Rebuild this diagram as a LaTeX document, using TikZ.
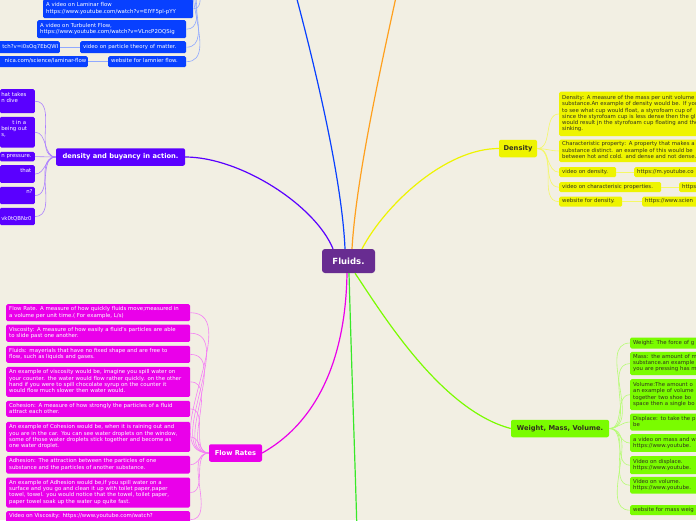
\documentclass[tikz,border=0pt]{standalone}
\usepackage{fontspec}
\setmainfont{DejaVu Sans}
\definecolor{paper}{RGB}{242,239,227}
\definecolor{rootC}{RGB}{104,44,145}
\definecolor{blueC}{RGB}{8,64,255}
\definecolor{violC}{RGB}{90,0,255}
\definecolor{yelC}{RGB}{238,244,0}
\definecolor{limeC}{RGB}{122,252,0}
\definecolor{magC}{RGB}{234,0,234}
\definecolor{orgC}{RGB}{255,160,30}
\definecolor{grnC}{RGB}{56,232,40}
\definecolor{inkC}{RGB}{50,50,30}
\newcommand{\leaffont}{\fontsize{5.4}{6.2}\selectfont}
\begin{document}
\begin{tikzpicture}[x=1pt, y=-1pt,
    root/.style={fill=rootC, text=white, rounded corners=3pt, font=\bfseries\fontsize{8.5}{9}\selectfont, minimum width=53pt, minimum height=24pt, inner sep=0pt},
    branch/.style={rounded corners=2pt, font=\bfseries\fontsize{6.7}{7}\selectfont, minimum height=17.5pt, inner sep=0pt},
    leaf/.style={anchor=north west, align=left, rounded corners=1.5pt, inner xsep=3pt, inner ysep=0pt, font=\leaffont, minimum height=#1, execute at begin node=\strut, execute at end node=\strut},
    cut/.style={anchor=north east, rounded corners=1.5pt, inner xsep=1.5pt, inner ysep=0pt, font=\leaffont, minimum height=#1, execute at begin node=\strut, execute at end node=\strut},
    trunk/.style={line width=1.2pt},
    twig/.style={line width=0.6pt},
]
\useasboundingbox (0,0) rectangle (696,520);
\clip (0,0) rectangle (696,520);
\fill[paper] (0,0) rectangle (696,520);

% Raiz
\node[root] (fluids) at (348.5,261) {Fluids.};

% Ramos
\node[branch, fill=violC, text=white, minimum width=129pt] (buoy) at (120.5,157) {density and buyancy in action.};
\node[branch, fill=yelC, text=inkC, minimum width=38pt] (dsty) at (518,148.5) {Density};
\node[branch, fill=limeC, text=inkC, minimum width=98pt] (wmv) at (560,428.5) {Weight, Mass, Volume.};
\node[branch, fill=magC, text=white, minimum width=53pt] (flow) at (235.5,453) {Flow Rates};

% Ramos fora da imagem
\coordinate (bluetop) at (294,-12);
\coordinate (bluekid) at (206,-30);
\coordinate (orgtop) at (398,-12);
\coordinate (grnbot) at (357,532);

% Folhas azuis
\node[leaf=19, fill=blueC, text=white, text width=144pt] (lam) at (43,-1) {A video on Laminar flow\\https://www.youtube.com/watch?v=EIYF5pl-pYY};
\node[leaf=18, fill=blueC, text=white, text width=143pt] (turb) at (37,20) {A video on Turbulent Flow,\\https://www.youtube.com/watch?v=VLncP2OQSig};
\node[leaf=12, fill=blueC, text=white, text width=100pt] (part) at (80,41) {video on particle theory of matter.};
\node[cut=12, fill=blueC, text=white, text width=80pt, align=right] (partu) at (60,41) {tch?v=i0sOq7EbQWI};
\node[leaf=11, fill=blueC, text=white, text width=72pt] (lweb) at (108,56) {website for lamnier flow.};
\node[cut=11, fill=blueC, text=white, text width=100pt, align=right] (lwebu) at (88,56) {nica.com/science/laminar-flow};

% Folhas violeta
\node[cut=24, fill=violC, text=white, text width=32pt, align=left] (v1) at (35,89) {hat takes\\n dive\\\mbox{}};
\node[cut=30.6, fill=violC, text=white, text width=32pt, align=left] (v2) at (35,116.7) {\hspace*{11pt}t in a\\being out\\s,\\\mbox{}};
\node[cut=9.5, fill=violC, text=white, text width=32pt, align=left] (v3) at (35,151.7) {n pressure.};
\node[cut=17.7, fill=violC, text=white, text width=32pt, align=left] (v4) at (35,165) {\hspace*{19pt}that\\\mbox{}};
\node[cut=17.3, fill=violC, text=white, text width=32pt, align=left] (v5) at (35,186.7) {\hspace*{25pt}n?\\\mbox{}};
\node[cut=17.3, fill=violC, text=white, text width=32pt, align=left] (v6) at (35,207.7) {\mbox{}\\vk0tQBNz0};

% Folhas amarelas
\node[leaf=44.5, fill=yelC, text=inkC, text width=200pt] (y1) at (559,91.5) {Density: A measure of the mass per unit volume o\\substance.An example of density would be. If you\\to see what cup would float, a styrofoam cup of\\since the styrofoam cup is less dense then the gl\\would result jn the styrofoam cup floating and the\\sinking.};
\node[leaf=22.5, fill=yelC, text=inkC, text width=200pt] (y2) at (559,139.5) {Characteristic property: A property that makes a\\substance distinct. an example of this would be\\between hot and cold. and dense and not dense.};
\node[leaf=10, fill=yelC, text=inkC, text width=51pt] (y3) at (559,167) {video on density.};
\node[leaf=10, fill=yelC, text=inkC, text width=100pt] (y3u) at (634,167) {https://m.youtube.co};
\node[leaf=10, fill=yelC, text=inkC, text width=96pt] (y4) at (559,182) {video on characterisic properties.};
\node[leaf=10, fill=yelC, text=inkC, text width=60pt] (y4u) at (679,182) {https};
\node[leaf=10, fill=yelC, text=inkC, text width=57pt] (y5) at (559,196.5) {website for density.};
\node[leaf=10, fill=yelC, text=inkC, text width=100pt] (y5u) at (642,196.5) {https://www.scien};

% Folhas verdes
\node[leaf=11, fill=limeC, text=inkC, text width=200pt] (g1) at (630,337.3) {Weight: The force of g};
\node[leaf=23.3, fill=limeC, text=inkC, text width=200pt] (g2) at (630,351.7) {Mass: the amount of m\\substance.an example\\you are pressing has m};
\node[leaf=31, fill=limeC, text=inkC, text width=200pt] (g3) at (630,379) {Volume:The amount o\\an example of volume\\together two shoe bo\\space then a single bo};
\node[leaf=17, fill=limeC, text=inkC, text width=200pt] (g4) at (630,413.3) {Displace: to take the p\\be};
\node[leaf=17.7, fill=limeC, text=inkC, text width=200pt] (g5) at (630,434) {a video on mass and w\\https://www.youtube.};
\node[leaf=18, fill=limeC, text=inkC, text width=200pt] (g6) at (630,456) {Video on displace.\\https://www.youtube.};
\node[leaf=16.7, fill=limeC, text=inkC, text width=200pt] (g7) at (630,476.7) {Video on volume.\\https://www.youtube.};
\node[leaf=10, fill=limeC, text=inkC, text width=200pt] (g8) at (630,505) {website for mass weig};

% Folhas magenta
\node[leaf=17, fill=magC, text=white, text width=178pt] (m1) at (6,304) {Flow Rate. A measure of how quickly fluids move;measured in\\a volume per unit time.( For example, L/s)};
\node[leaf=17.4, fill=magC, text=white, text width=178pt] (m2) at (6,324.3) {Viscosity: A measure of how easily a fluid's particles are able\\to slide past one another.};
\node[leaf=17, fill=magC, text=white, text width=178pt] (m3) at (6,345.7) {Fluids: mayerials that have no fixed shape and are free to\\flow, such as liquids and gases.};
\node[leaf=30, fill=magC, text=white, text width=178pt] (m4) at (6,366.7) {An example of viscosity would be, imagine you spill water on\\your counter. the water would flow rather quickly. on the other\\hand if you were to spill chocolate syrup on the counter it\\would flow much slower then water would.};
\node[leaf=16, fill=magC, text=white, text width=178pt] (m5) at (6,400.7) {Cohesion: A measure of how strongly the particles of a fluid\\attract each other.};
\node[leaf=30, fill=magC, text=white, text width=178pt] (m6) at (6,421.7) {An example of Cohesion would be, when it is raining out and\\you are in the car. You can see water droplets on the window,\\some of those water droplets stick together and become as\\one water droplet.};
\node[leaf=17.6, fill=magC, text=white, text width=178pt] (m7) at (6,455.7) {Adhesion: The attraction between the particles of one\\substance and the particles of another substance.};
\node[leaf=30, fill=magC, text=white, text width=178pt] (m8) at (6,477.3) {An example of Adhesion would be,if you spill water on a\\surface and you go and clean it up with toilet paper,paper\\towel, towel. you would notice that the towel, toilet paper,\\paper towel soak up  the water up quite fast.};
\node[leaf=17, fill=magC, text=white, text width=178pt] (m9) at (6,511) {Video on Viscosity: https://www.youtube.com/watch?\\\mbox{}};

% Troncos
\draw[trunk, blueC] ([xshift=-3.5pt]fluids.north) .. controls (342,180) and (316,70) .. (bluetop);
\draw[trunk, orgC] ([xshift=3.5pt]fluids.north) .. controls (356,180) and (380,70) .. (orgtop);
\draw[trunk, violC] ([xshift=-15.5pt]fluids.north) .. controls (315,205) and (240,157) .. (buoy.east);
\draw[trunk, yelC] ([xshift=13.5pt]fluids.north) .. controls (385,205) and (445,148.5) .. (dsty.west);
\draw[trunk, limeC] ([xshift=6.5pt]fluids.south) .. controls (380,310) and (440,410) .. (wmv.west);
\draw[trunk, magC] ([xshift=-1.5pt]fluids.south) .. controls (345,400) and (285,440) .. (flow.east);
\draw[trunk, grnC] ([xshift=0.5pt]fluids.south) .. controls (352,380) and (355,460) .. (grnbot);

% Ligacoes azuis
\draw[twig, blueC!45] (lam.east) to[out=0, in=180] (bluekid);
\draw[twig, blueC!45] (turb.east) to[out=0, in=180] (bluekid);
\draw[twig, blueC!45] (part.east) to[out=0, in=180] (bluekid);
\draw[twig, blueC!45] (lweb.east) to[out=0, in=180] (bluekid);
\draw[twig, blueC!45] (part.west) -- (partu.east);
\draw[twig, blueC!45] (lweb.west) -- (lwebu.east);

% Ligacoes violeta
\draw[twig, violC!50] (buoy.west) to[out=180, in=0] (v1.east);
\draw[twig, violC!50] (buoy.west) to[out=180, in=0] (v2.east);
\draw[twig, violC!50] (buoy.west) to[out=180, in=0] (v3.east);
\draw[twig, violC!50] (buoy.west) to[out=180, in=0] (v4.east);
\draw[twig, violC!50] (buoy.west) to[out=180, in=0] (v5.east);
\draw[twig, violC!50] (buoy.west) to[out=180, in=0] (v6.east);

% Ligacoes amarelas
\draw[twig, yelC!60] (dsty.east) to[out=0, in=180] (y1.west);
\draw[twig, yelC!60] (dsty.east) to[out=0, in=180] (y2.west);
\draw[twig, yelC!60] (dsty.east) to[out=0, in=180] (y3.west);
\draw[twig, yelC!60] (dsty.east) to[out=0, in=180] (y4.west);
\draw[twig, yelC!60] (dsty.east) to[out=0, in=180] (y5.west);
\draw[twig, yelC!60] (y3.east) -- (y3u.west);
\draw[twig, yelC!60] (y4.east) -- (y4u.west);
\draw[twig, yelC!60] (y5.east) -- (y5u.west);

% Ligacoes verdes
\draw[twig, limeC!55] (wmv.east) to[out=0, in=180] (g1.west);
\draw[twig, limeC!55] (wmv.east) to[out=0, in=180] (g2.west);
\draw[twig, limeC!55] (wmv.east) to[out=0, in=180] (g3.west);
\draw[twig, limeC!55] (wmv.east) to[out=0, in=180] (g4.west);
\draw[twig, limeC!55] (wmv.east) to[out=0, in=180] (g5.west);
\draw[twig, limeC!55] (wmv.east) to[out=0, in=180] (g6.west);
\draw[twig, limeC!55] (wmv.east) to[out=0, in=180] (g7.west);
\draw[twig, limeC!55] (wmv.east) to[out=0, in=180] (g8.west);

% Ligacoes magenta
\draw[twig, magC!50] (flow.west) to[out=180, in=0] (m1.east);
\draw[twig, magC!50] (flow.west) to[out=180, in=0] (m2.east);
\draw[twig, magC!50] (flow.west) to[out=180, in=0] (m3.east);
\draw[twig, magC!50] (flow.west) to[out=180, in=0] (m4.east);
\draw[twig, magC!50] (flow.west) to[out=180, in=0] (m5.east);
\draw[twig, magC!50] (flow.west) to[out=180, in=0] (m6.east);
\draw[twig, magC!50] (flow.west) to[out=180, in=0] (m7.east);
\draw[twig, magC!50] (flow.west) to[out=180, in=0] (m8.east);
\draw[twig, magC!50] (flow.west) to[out=180, in=0] (m9.east);
\end{tikzpicture}
\end{document}
